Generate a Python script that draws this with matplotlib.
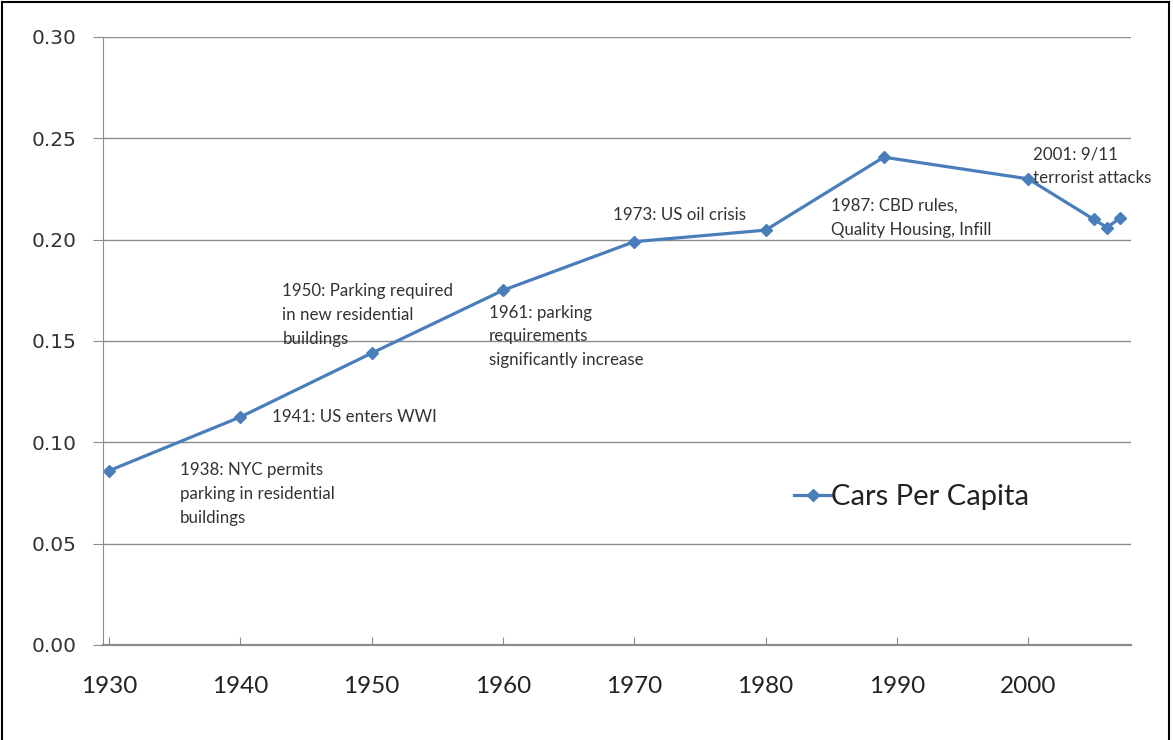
import matplotlib
matplotlib.use("Agg")
import matplotlib.pyplot as plt
from matplotlib.lines import Line2D

# data
years = [1930, 1940, 1950, 1960, 1970, 1980, 1989, 2000, 2005, 2006, 2007]
cars_per_capita = [0.086, 0.1125, 0.144, 0.175, 0.199, 0.2047, 0.2407, 0.230, 0.210, 0.206, 0.2107]

x_ticks = [1930, 1940, 1950, 1960, 1970, 1980, 1990, 2000]
y_ticks = [0.00, 0.05, 0.10, 0.15, 0.20, 0.25, 0.30]

notes = [
    "1938: NYC permits\nparking in residential\nbuildings",
    "1941: US enters WWI",
    "1950: Parking required\nin new residential\nbuildings",
    "1961: parking\nrequirements\nsignificantly increase",
    "1973: US oil crisis",
    "1987: CBD rules,\nQuality Housing, Infill",
    "2001: 9/11\nterrorist attacks",
]
note_pos = [
    (1935.4, 0.0902, "top"),
    (1942.4, 0.1125, "center"),
    (1943.2, 0.1785, "top"),
    (1958.9, 0.1680, "top"),
    (1968.4, 0.2120, "center"),
    (1985.0, 0.2205, "top"),
    (2000.4, 0.2460, "top"),
]

BLUE = "#4A7EBB"
GRID = "#8C8C8C"


def plot_cars_per_capita():
    fig = plt.figure(figsize=(11.73, 7.40), dpi=100)
    ax = fig.add_axes([103 / 1173, 1 - 645 / 740, 1028 / 1173, 608 / 740])

    ax.plot(years, cars_per_capita, color=BLUE, lw=2.3, marker="D", ms=6.5,
            label="Cars Per Capita")

    ax.set_xlim(1929.54, 2007.83)
    ax.set_ylim(0, 0.30)
    ax.set_xticks(x_ticks)
    ax.set_yticks(y_ticks)
    ax.set_yticklabels([f"{v:.2f}" for v in y_ticks])
    ax.yaxis.grid(True, color=GRID, lw=1.0)
    ax.set_axisbelow(True)

    for side in ["top", "right"]:
        ax.spines[side].set_visible(False)
    ax.spines["left"].set_color(GRID)
    ax.spines["bottom"].set_color(GRID)
    ax.spines["bottom"].set_linewidth(1.6)

    ax.tick_params(axis="x", direction="in", length=6, color=GRID, pad=22,
                   labelsize=17.5, labelcolor="#222222")
    ax.tick_params(axis="y", direction="out", length=7, color=GRID, pad=12,
                   labelsize=14.5, labelcolor="#333333")
    for lbl in ax.get_xticklabels():
        lbl.set_family("Lato")

    for txt, (x, y, va) in zip(notes, note_pos):
        ax.text(x, y, txt, family="Lato", fontsize=12.2, color="#333333",
                va=va, ha="left", linespacing=1.61)

    leg = ax.legend(loc="center left", bbox_to_anchor=(0.647, 0.243), frameon=False,
                    handlelength=1.25, handletextpad=0.0,
                    prop={"family": "Lato", "size": 21})
    for t in leg.get_texts():
        t.set_color("#222222")

    # black frame round the picture (left, top, right)
    fig.add_artist(Line2D([0.002, 0.002], [0, 0.997], transform=fig.transFigure, color="black", lw=1.5))
    fig.add_artist(Line2D([0.002, 0.997], [0.997, 0.997], transform=fig.transFigure, color="black", lw=1.5))
    fig.add_artist(Line2D([0.997, 0.997], [0, 0.997], transform=fig.transFigure, color="black", lw=1.5))

    plt.savefig("out.png", dpi=100)


if __name__ == "__main__":
    plot_cars_per_capita()
